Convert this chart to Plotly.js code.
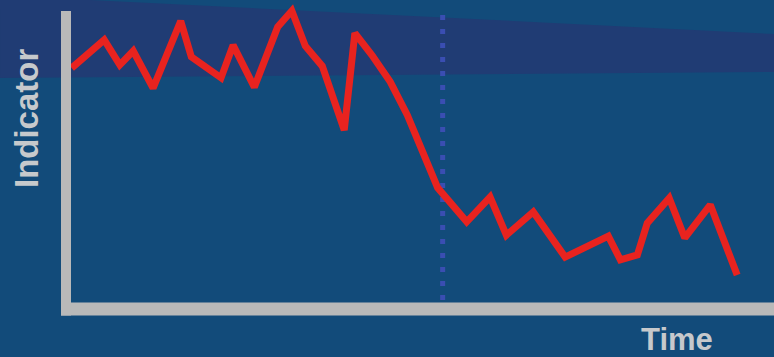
<!DOCTYPE html>
<html>
<head>
<meta charset="utf-8">
<script src="https://cdn.plot.ly/plotly-3.0.1.min.js"></script>
<style>
  html, body { margin: 0; padding: 0; background: #124b7a; }
  #chart { width: 774px; height: 357px; }
</style>
</head>
<body>
<div id="chart"></div>
<script>
// Time (arbitrary units 0-100) and indicator value (0-100)
const time = [0.8, 5.4, 7.6, 9.5, 12.3, 16.2, 17.7, 21.9, 23.6, 26.6, 29.9, 31.9, 33.8, 36.2, 39.3, 40.8, 43.2, 45.8, 48.2, 52.5, 56.6, 59.9, 62.2, 66.0, 70.5, 76.6, 78.3, 80.7, 82.1, 85.2, 87.4, 91.0, 94.8];
const indicator = [78.0, 87.1, 79.0, 83.5, 71.5, 93.2, 81.6, 74.8, 85.4, 71.8, 91.3, 96.5, 85.1, 78.6, 57.9, 89.3, 82.2, 73.5, 62.8, 39.2, 28.2, 36.2, 23.9, 31.4, 16.8, 23.6, 15.9, 17.5, 27.8, 35.9, 23.0, 33.7, 11.0];
const eventTime = 53.2;          // dotted marker
const eventRange = [2.9, 95.8];  // its vertical extent
const yLabel = "Indicator";
const xLabel = "Time";

const bg = "#124b7a";
const band = "#203c74";
const axisGray = "#b9b9b9";
const textGray = "#c6c9cc";

const trace = {
  x: time,
  y: indicator,
  type: "scatter",
  mode: "lines",
  line: { color: "#e8231f", width: 7, shape: "linear" },
  hoverinfo: "skip",
  showlegend: false
};

const layout = {
  width: 774,
  height: 357,
  margin: { l: 66, r: 0, t: 0, b: 48, pad: 0 },
  paper_bgcolor: bg,
  plot_bgcolor: "rgba(0,0,0,0)",
  showlegend: false,
  xaxis: { range: [0, 100], visible: false, fixedrange: true },
  yaxis: { range: [0, 100], visible: false, fixedrange: true },
  shapes: [
    // darker band at top
    {
      type: "path", xref: "paper", yref: "paper", layer: "below",
      path: "M -0.0932 1.0 L 0.0339 1.0 L 1 0.890 L 1 0.767 L -0.0932 0.7476 Z",
      fillcolor: band, line: { width: 0 }
    },
    // dotted event line
    {
      type: "line", xref: "x", yref: "y", layer: "below",
      x0: eventTime, x1: eventTime, y0: eventRange[0], y1: eventRange[1],
      line: { color: "#3a4eb2", width: 5, dash: "5px,9px" }
    },
    // y axis bar
    {
      type: "line", xref: "paper", yref: "paper",
      x0: 0, x1: 0, y0: -0.021, y1: 0.9644,
      line: { color: axisGray, width: 10 }
    },
    // x axis bar
    {
      type: "line", xref: "paper", yref: "paper",
      x0: -0.00706, x1: 1.0, y0: 0, y1: 0,
      line: { color: axisGray, width: 13 }
    }
  ],
  annotations: [
    {
      text: yLabel, xref: "paper", yref: "paper",
      x: -0.0565, y: 0.618, xanchor: "center", yanchor: "middle",
      textangle: -90, showarrow: false,
      font: { family: "Liberation Sans, Arial, sans-serif", size: 33, color: textGray, weight: "bold" }
    },
    {
      text: xLabel, xref: "paper", yref: "paper",
      x: 0.8637, y: -0.0971, xanchor: "center", yanchor: "middle",
      showarrow: false,
      font: { family: "Liberation Sans, Arial, sans-serif", size: 31, color: textGray, weight: "bold" }
    }
  ]
};

Plotly.newPlot("chart", [trace], layout, { staticPlot: true, displayModeBar: false });
</script>
</body>
</html>
